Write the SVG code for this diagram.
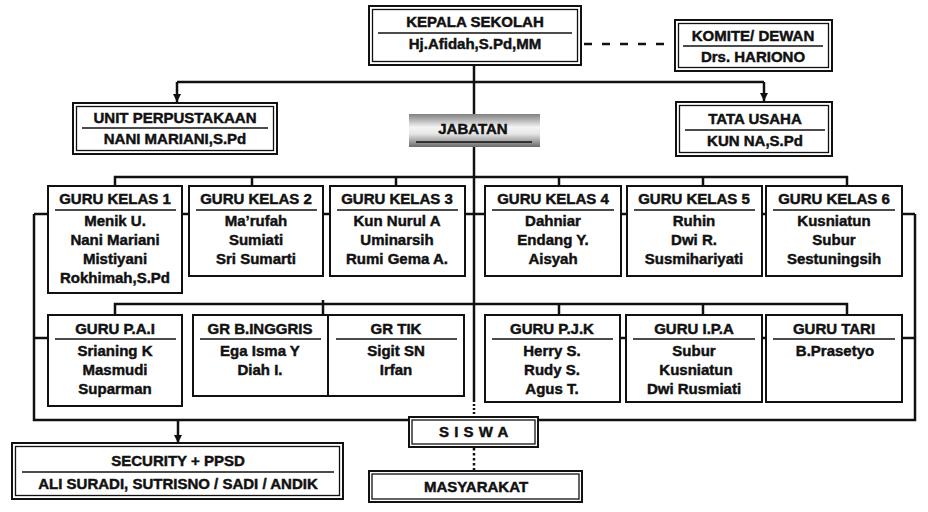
<svg xmlns="http://www.w3.org/2000/svg" width="928" height="512" viewBox="0 0 928 512">
<style>
.t{font-family:"Liberation Sans",Arial,sans-serif;font-weight:bold;font-size:15px;fill:#111;stroke:#111;stroke-width:0.45;text-anchor:middle}
.o{fill:#fff;stroke:#111;stroke-width:2}
.i{fill:none;stroke:#111;stroke-width:1.3}
.b{fill:#fff;stroke:#111;stroke-width:2}
.dv{stroke:#111;stroke-width:1.3}
.ln{fill:none;stroke:#111;stroke-width:2.5}
</style>
<defs>
<marker id="ar" markerUnits="userSpaceOnUse" markerWidth="8" markerHeight="8" refX="8" refY="4" orient="auto">
<path d="M0,0 L8,4 L0,8 z" fill="#111"/>
</marker>
<linearGradient id="jg" x1="0" y1="0" x2="0" y2="1">
<stop offset="0" stop-color="#808080"/>
<stop offset="0.4" stop-color="#f4f4f4"/>
<stop offset="0.6" stop-color="#e6e6e6"/>
<stop offset="1" stop-color="#6a6a6a"/>
</linearGradient>
</defs>
<rect width="928" height="512" fill="#fff"/>
<g id="connectors">
<line class="ln" x1="474" y1="66" x2="474" y2="400"/>
<line class="ln" x1="474" y1="400" x2="474" y2="416" stroke-dasharray="2 2"/>
<line class="ln" x1="584" y1="44" x2="674" y2="44" stroke-width="3" stroke-dasharray="8 10"/>
<line class="ln" x1="177" y1="82" x2="764" y2="82" stroke-width="2"/>
<line class="ln" x1="177" y1="82" x2="177" y2="102" stroke-width="2" marker-end="url(#ar)"/>
<line class="ln" x1="764" y1="82" x2="764" y2="101" stroke-width="2" marker-end="url(#ar)"/>
<polyline class="ln" points="115,186 115,177 847,177 847,186"/>
<line class="ln" x1="252" y1="177" x2="252" y2="186"/>
<line class="ln" x1="396" y1="177" x2="396" y2="186"/>
<line class="ln" x1="559" y1="177" x2="559" y2="186"/>
<line class="ln" x1="703" y1="177" x2="703" y2="186"/>
<line class="ln" x1="34" y1="214" x2="915" y2="214"/>
<path class="ln" d="M34,214 V420 H915 V214"/>
<polyline class="ln" points="115,315 115,304 847,304 847,315"/>
<line class="ln" x1="323" y1="300" x2="323" y2="315"/>
<line class="ln" x1="559" y1="304" x2="559" y2="315"/>
<line class="ln" x1="703" y1="304" x2="703" y2="315"/>
<line class="ln" x1="34" y1="338" x2="48" y2="338"/>
<line class="ln" x1="621" y1="338" x2="915" y2="338"/>
<line class="ln" x1="178" y1="420" x2="178" y2="443" stroke-width="2" marker-end="url(#ar)"/>
<line class="ln" x1="474" y1="448" x2="474" y2="471" stroke-dasharray="2.5 2.5"/>
</g>
<g id="kepala">
<rect class="o" x="369" y="6" width="212" height="59"/>
<rect class="i" x="372.5" y="9.5" width="205" height="52"/>
<line class="dv" x1="378" y1="33" x2="572" y2="33"/>
<text class="t" x="475" y="27">KEPALA SEKOLAH</text>
<text class="t" x="475" y="49">Hj.Afidah,S.Pd,MM</text>
</g>
<g id="komite">
<rect class="o" x="675" y="20" width="157" height="51"/>
<rect class="i" x="678.5" y="23.5" width="150" height="44"/>
<line class="dv" x1="683" y1="46" x2="823" y2="46"/>
<text class="t" x="753" y="41">KOMITE/ DEWAN</text>
<text class="t" x="753" y="62">Drs. HARIONO</text>
</g>
<g id="perpustakaan">
<rect class="o" x="73" y="103" width="204" height="51"/>
<rect class="i" x="76.5" y="106.5" width="197" height="44"/>
<line class="dv" x1="82" y1="128" x2="268" y2="128"/>
<text class="t" x="175" y="123">UNIT PERPUSTAKAAN</text>
<text class="t" x="175" y="144">NANI MARIANI,S.Pd</text>
</g>
<g id="tatausaha">
<rect class="o" x="676" y="102" width="156" height="54"/>
<rect class="i" x="679.5" y="105.5" width="149" height="47"/>
<line class="dv" x1="685" y1="130" x2="825" y2="130"/>
<text class="t" x="755" y="124">TATA USAHA</text>
<text class="t" x="755" y="146">KUN NA,S.Pd</text>
</g>
<g id="jabatan">
<rect x="409" y="114" width="131" height="33" fill="url(#jg)"/>
<line class="dv" x1="416" y1="142" x2="532" y2="142"/>
<text class="t" x="473" y="134">JABATAN</text>
</g>
<g id="gk1">
<rect class="b" x="48" y="186" width="134" height="107"/>
<line class="dv" x1="55" y1="210" x2="176" y2="210"/>
<text class="t" x="115" y="204">GURU KELAS 1</text>
<text class="t" x="115" y="226">Menik U.</text>
<text class="t" x="115" y="245">Nani Mariani</text>
<text class="t" x="115" y="264">Mistiyani</text>
<text class="t" x="115" y="283">Rokhimah,S.Pd</text>
</g>
<g id="gk2">
<rect class="b" x="189" y="186" width="134" height="90"/>
<line class="dv" x1="196" y1="210" x2="317" y2="210"/>
<text class="t" x="256" y="204">GURU KELAS 2</text>
<text class="t" x="256" y="226">Ma’rufah</text>
<text class="t" x="256" y="245">Sumiati</text>
<text class="t" x="256" y="264">Sri Sumarti</text>
</g>
<g id="gk3">
<rect class="b" x="330" y="186" width="135" height="90"/>
<line class="dv" x1="337" y1="210" x2="458" y2="210"/>
<text class="t" x="397" y="204">GURU KELAS 3</text>
<text class="t" x="397" y="226">Kun Nurul A</text>
<text class="t" x="397" y="245">Uminarsih</text>
<text class="t" x="397" y="264">Rumi Gema A.</text>
</g>
<g id="gk4">
<rect class="b" x="485" y="186" width="136" height="90"/>
<line class="dv" x1="492" y1="210" x2="614" y2="210"/>
<text class="t" x="553" y="204">GURU KELAS 4</text>
<text class="t" x="553" y="226">Dahniar</text>
<text class="t" x="553" y="245">Endang Y.</text>
<text class="t" x="553" y="264">Aisyah</text>
</g>
<g id="gk5">
<rect class="b" x="627" y="186" width="135" height="90"/>
<line class="dv" x1="634" y1="210" x2="755" y2="210"/>
<text class="t" x="694" y="204">GURU KELAS 5</text>
<text class="t" x="694" y="226">Ruhin</text>
<text class="t" x="694" y="245">Dwi R.</text>
<text class="t" x="694" y="264">Susmihariyati</text>
</g>
<g id="gk6">
<rect class="b" x="766" y="186" width="136" height="90"/>
<line class="dv" x1="773" y1="210" x2="895" y2="210"/>
<text class="t" x="834" y="204">GURU KELAS 6</text>
<text class="t" x="834" y="226">Kusniatun</text>
<text class="t" x="834" y="245">Subur</text>
<text class="t" x="834" y="264">Sestuningsih</text>
</g>
<g id="pai">
<rect class="b" x="48" y="315" width="134" height="91"/>
<line class="dv" x1="55" y1="339" x2="176" y2="339"/>
<text class="t" x="115" y="334">GURU P.A.I</text>
<text class="t" x="115" y="356">Srianing K</text>
<text class="t" x="115" y="375">Masmudi</text>
<text class="t" x="115" y="394">Suparman</text>
</g>
<g id="binggris">
<rect class="b" x="193" y="315" width="135" height="81"/>
<line class="dv" x1="200" y1="339" x2="321" y2="339"/>
<text class="t" x="260" y="334">GR B.INGGRIS</text>
<text class="t" x="260" y="356">Ega Isma Y</text>
<text class="t" x="260" y="375">Diah I.</text>
</g>
<g id="tik">
<rect class="b" x="328" y="315" width="136" height="81"/>
<line class="dv" x1="336" y1="339" x2="457" y2="339"/>
<text class="t" x="396" y="334">GR TIK</text>
<text class="t" x="396" y="356">Sigit SN</text>
<text class="t" x="396" y="375">Irfan</text>
</g>
<g id="pjk">
<rect class="b" x="485" y="315" width="135" height="87"/>
<line class="dv" x1="492" y1="339" x2="613" y2="339"/>
<text class="t" x="552" y="334">GURU P.J.K</text>
<text class="t" x="552" y="356">Herry S.</text>
<text class="t" x="552" y="375">Rudy S.</text>
<text class="t" x="552" y="394">Agus T.</text>
</g>
<g id="ipa">
<rect class="b" x="626" y="315" width="136" height="87"/>
<line class="dv" x1="633" y1="339" x2="755" y2="339"/>
<text class="t" x="694" y="334">GURU I.P.A</text>
<text class="t" x="694" y="356">Subur</text>
<text class="t" x="696" y="375">Kusniatun</text>
<text class="t" x="694" y="394">Dwi Rusmiati</text>
</g>
<g id="tari">
<rect class="b" x="766" y="315" width="136" height="87"/>
<line class="dv" x1="773" y1="339" x2="895" y2="339"/>
<text class="t" x="834" y="334">GURU TARI</text>
<text class="t" x="835" y="356">B.Prasetyo</text>
</g>
<g id="siswa">
<rect class="o" x="409" y="417" width="129" height="30"/>
<rect class="i" x="412" y="420" width="123" height="24"/>
<text class="t" x="474" y="437" letter-spacing="0.5">S I S W A</text>
</g>
<g id="security">
<rect class="o" x="12" y="443" width="331" height="56"/>
<rect class="i" x="15.5" y="446.5" width="324" height="49"/>
<line class="dv" x1="22" y1="472" x2="334" y2="472"/>
<text class="t" x="178" y="466">SECURITY + PPSD</text>
<text class="t" x="178" y="489">ALI SURADI, SUTRISNO / SADI / ANDIK</text>
</g>
<g id="masyarakat">
<rect class="o" x="369" y="471" width="213" height="31"/>
<rect class="i" x="372" y="474" width="207" height="25"/>
<text class="t" x="476" y="492">MASYARAKAT</text>
</g>
</svg>
